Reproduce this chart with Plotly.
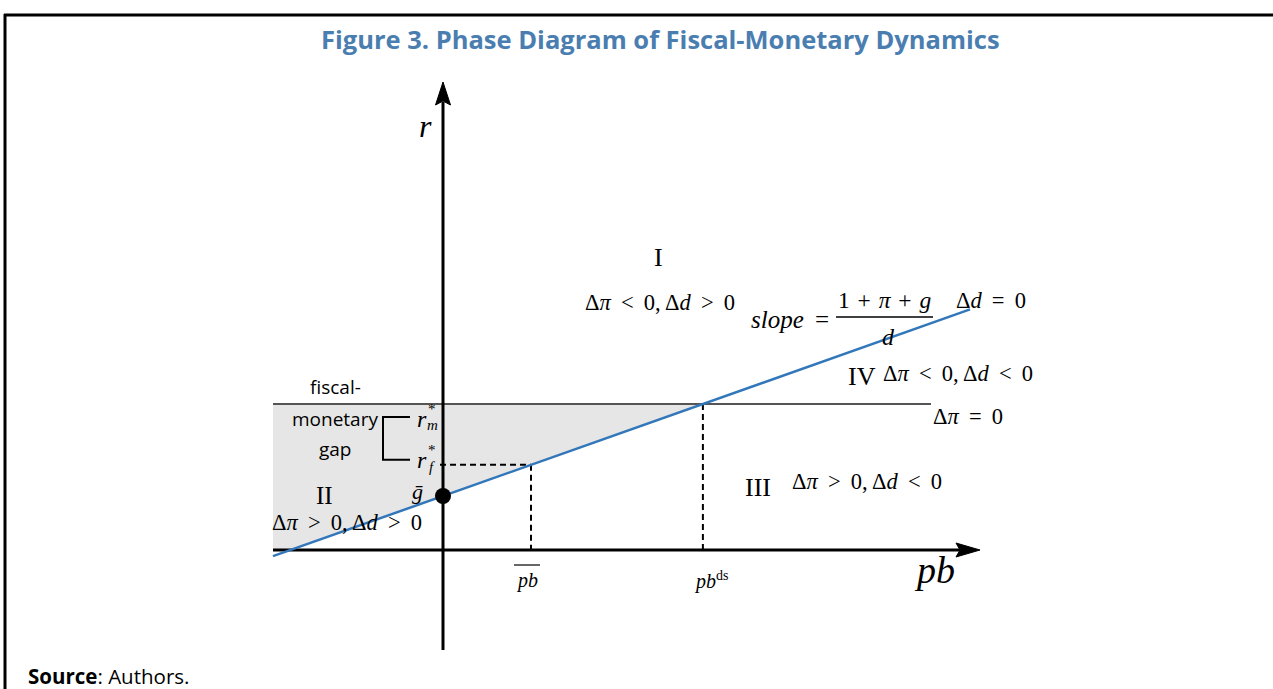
import plotly.graph_objects as go

# ---- model values (diagram units) ----
g_bar = 0.54          # intercept of Δd = 0 locus
slope = 0.354         # slope of Δd = 0 locus
r_m = 1.46            # monetary neutral rate (Δπ = 0 locus)
pb_bar = 0.88         # primary balance consistent with r_f*
pb_ds = (r_m - g_bar) / slope   # debt-stabilising primary balance
r_f = g_bar + slope * pb_bar    # fiscal rate

pb_left = -1.70       # left end of drawn loci
pb_line_right = 5.27  # right end of Δd = 0 line
pb_rm_right = 4.88    # right end of Δπ = 0 line
x_axis_end = 5.37
y_axis_top = 4.68
y_axis_bottom = -1.00

SERIF = "Liberation Serif"
SANS = "Open Sans"
TS = "\u2009"  # thin space for math spacing
HS = "\u200a"  # hair space

fig = go.Figure()

# shaded fiscal-monetary gap
pb_zero = -g_bar / slope
fig.add_trace(go.Scatter(
    x=[pb_left, pb_ds, pb_zero, pb_left, pb_left],
    y=[r_m, r_m, 0, 0, r_m],
    fill="toself", fillcolor="#e6e6e6", line=dict(width=0),
    mode="lines", hoverinfo="skip", showlegend=False))

# Δπ = 0 locus
fig.add_trace(go.Scatter(x=[pb_left, pb_rm_right], y=[r_m, r_m], mode="lines",
                         line=dict(color="#555555", width=2), showlegend=False))

# dashed guides
dash = dict(color="black", width=2, dash="6px,4px")
fig.add_trace(go.Scatter(x=[pb_bar, pb_bar], y=[r_f, 0], mode="lines", line=dash, showlegend=False))
fig.add_trace(go.Scatter(x=[pb_ds, pb_ds], y=[r_m, 0], mode="lines", line=dash, showlegend=False))
fig.add_trace(go.Scatter(x=[-0.03, pb_bar], y=[r_f, r_f], mode="lines", line=dash, showlegend=False))

# axes
fig.add_trace(go.Scatter(x=[pb_left, x_axis_end - 0.2], y=[0, 0], mode="lines",
                         line=dict(color="black", width=3), showlegend=False))
fig.add_trace(go.Scatter(x=[0, 0], y=[y_axis_bottom, y_axis_top - 0.2], mode="lines",
                         line=dict(color="black", width=3), showlegend=False))
# arrow heads
fig.add_trace(go.Scatter(
    x=[x_axis_end, x_axis_end - 0.24, x_axis_end - 0.20, x_axis_end - 0.24, x_axis_end],
    y=[0, 0.07, 0, -0.07, 0], fill="toself", fillcolor="black",
    line=dict(color="black", width=1), mode="lines", showlegend=False))
fig.add_trace(go.Scatter(
    x=[0, -0.075, 0, 0.075, 0],
    y=[y_axis_top, y_axis_top - 0.23, y_axis_top - 0.19, y_axis_top - 0.23, y_axis_top],
    fill="toself", fillcolor="black",
    line=dict(color="black", width=1), mode="lines", showlegend=False))

# Δd = 0 locus
fig.add_trace(go.Scatter(x=[pb_left, pb_line_right],
                         y=[g_bar + slope * pb_left, g_bar + slope * pb_line_right],
                         mode="lines", line=dict(color="#3377bb", width=2.5), showlegend=False))

# intercept dot
fig.add_trace(go.Scatter(x=[0], y=[g_bar], mode="markers",
                         marker=dict(color="black", size=16), showlegend=False))

# bracket
bx, by_top, by_bot, bx_end = -0.60, r_m - 0.13, r_f + 0.05, -0.33
fig.add_trace(go.Scatter(x=[bx_end, bx, bx, bx_end], y=[by_top, by_top, by_bot, by_bot],
                         mode="lines", line=dict(color="black", width=2), showlegend=False))

shapes = [
    # fraction bar
    dict(type="line", xref="x", yref="y", x0=3.93, x1=4.90, y0=2.33, y1=2.33,
         line=dict(color="black", width=1.3)),
    # overline for pb bar
    dict(type="line", xref="x", yref="y", x0=pb_bar - 0.17, x1=pb_bar + 0.09, y0=-0.15, y1=-0.15,
         line=dict(color="black", width=1.2)),
    # page frame
    dict(type="line", xref="paper", yref="paper", x0=4/1273, x1=1, y0=1-15/689, y1=1-15/689,
         line=dict(color="black", width=3)),
    dict(type="line", xref="paper", yref="paper", x0=5/1273, x1=5/1273, y0=0, y1=1-14/689,
         line=dict(color="black", width=3)),
]

annotations = []


def ann(x, y, text, size=22, family=SERIF, xanchor="center", color="black", xref="x", yref="y"):
    annotations.append(dict(x=x, y=y, xref=xref, yref=yref, text=text, showarrow=False,
                            xanchor=xanchor, yanchor="middle",
                            font=dict(size=size, family=family, color=color)))


def cond(op1, op2):
    return (f"Δ<i>π</i>{TS} {op1} {TS}0,{TS}Δ<i>d</i>{TS} {op2} {TS}0")


# title and source
ann(660/1273, 1-39/689, "<b>Figure 3. Phase Diagram of Fiscal-Monetary Dynamics</b>",
    size=25.5, family=SANS, color="#4a7eb1", xref="paper", yref="paper")
ann(26/1273, 1-676/689, "<b>Source</b>: Authors.", size=20.5, family=SANS, xanchor="left",
    xref="paper", yref="paper")

# axis labels
ann(-0.18, 4.24, "<i>r</i>", size=32)
ann(4.91, -0.20, "<i>pb</i>", size=38)
ann(pb_bar - 0.04, -0.30, "<i>pb</i>", size=20)
ann(pb_ds + 0.08, -0.30, "<i>pb</i><sup>ds</sup>", size=20)

# rates
ann(-0.21, r_m - 0.15, "<i>r</i>", size=24)
ann(-0.11, r_m - 0.05, "*", size=15)
ann(-0.11, r_m - 0.21, "<i>m</i>", size=15)
ann(-0.21, r_f + 0.05, "<i>r</i>", size=24)
ann(-0.11, r_f + 0.15, "*", size=15)
ann(-0.11, r_f - 0.02, "<i>f</i>", size=15)
ann(-0.26, g_bar + 0.05, "<i>ḡ</i>", size=22)

# gap label
ann(-1.08, 1.63, "fiscal-", size=19, family=SANS)
ann(-1.08, 1.31, "monetary", size=19, family=SANS)
ann(-1.08, 1.01, "gap", size=19, family=SANS)

# regions
ann(-1.19, 0.55, "II", size=25)
ann(-0.96, 0.28, cond("&gt;", "&gt;"), size=22.5)
ann(2.15, 2.93, "I", size=26)
ann(2.17, 2.48, cond("&lt;", "&gt;"), size=22.5)
ann(3.47, 2.31, "<i>slope</i>" + TS + " =", size=25)
ann(4.41, 2.50, f"1{HS} + {HS}<i>π</i>{HS} + {HS}<i>g</i>", size=23.5)
ann(4.45, 2.13, "<i>d</i>", size=24)
ann(5.48, 2.50, "Δ<i>d</i>" + TS + " = " + TS + "0", size=22.5)
ann(4.19, 1.74, "IV", size=26)
ann(5.15, 1.77, cond("&lt;", "&lt;"), size=22.5)
ann(5.25, 1.34, "Δ<i>π</i>" + TS + " = " + TS + "0", size=22.5)
ann(3.15, 0.63, "III", size=26)
ann(4.24, 0.69, cond("&gt;", "&lt;"), size=22.5)

fig.update_layout(
    width=1273, height=689, autosize=False,
    margin=dict(l=0, r=0, t=0, b=0, pad=0),
    paper_bgcolor="white", plot_bgcolor="white",
    xaxis=dict(range=[-4.43, 8.30], visible=False, fixedrange=True),
    yaxis=dict(range=[-1.39, 5.50], visible=False, fixedrange=True),
    shapes=shapes, annotations=annotations, showlegend=False,
)

fig.write_html("out.html", config={"displayModeBar": False},
               post_script="document.body.style.margin='0';")
